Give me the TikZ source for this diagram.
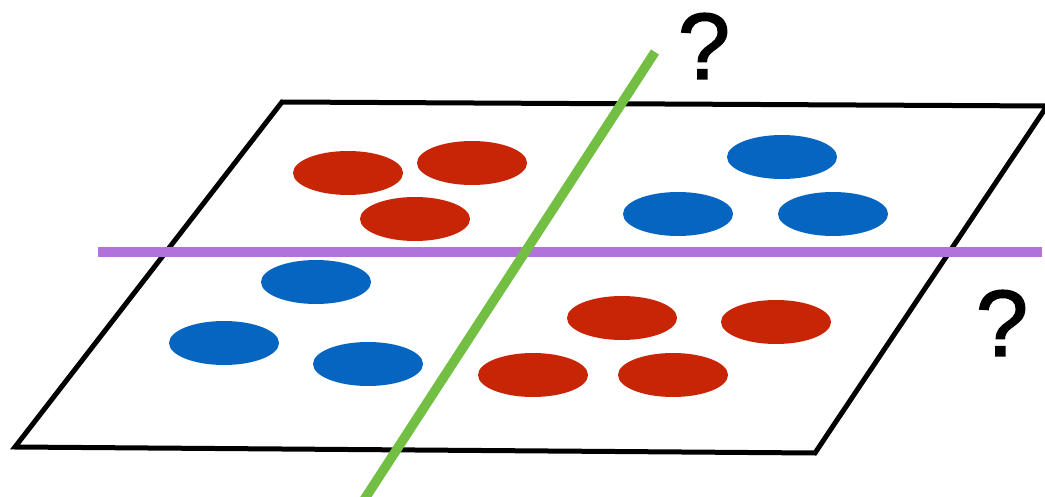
\documentclass[tikz,border=0pt]{standalone}
\usepackage{fontspec}
\setmainfont{Liberation Sans}
\newfontfamily\qfont[FakeBold=1.6]{Liberation Sans}
\definecolor{dotred}{HTML}{C82506}
\definecolor{dotblue}{HTML}{0565C0}
\definecolor{lgreen}{HTML}{72BF44}
\definecolor{lpurple}{HTML}{B272DC}
\begin{document}
\begin{tikzpicture}[x=1pt,y=-1pt,
  plane/.style={draw=black,line width=5pt,line join=miter},
  qmark/.style={font=\qfont\fontsize{94}{94}\selectfont,inner sep=0pt}]
\useasboundingbox (0,0) rectangle (1045,497);
% plane
\coordinate (tl) at (282,102);
\coordinate (tr) at (1047,106);
\coordinate (br) at (815,453);
\coordinate (bl) at (15,447);
\draw[plane] (tl) -- (tr) -- (br) -- (bl) -- cycle;
% ellipses
\foreach \x/\y in {348/173,472/163,415/219,622/318,776/322,533/375,673/375}
  \fill[dotred] (\x,\y) ellipse [x radius=55, y radius=22];
\foreach \x/\y in {782/157,678/214,833/214,316/282,224/343,368/364}
  \fill[dotblue] (\x,\y) ellipse [x radius=55, y radius=22];
% separating lines
\coordinate (pa) at (98,252);
\coordinate (pb) at (1042,252);
\draw[lpurple,line width=10pt] (pa) -- (pb);
\coordinate (ga) at (655,52);
\coordinate (gb) at (362,503);
\draw[lgreen,line width=9.5pt] (ga) -- (gb);
% question marks
\node[qmark] (q1) at (704,46) {?};
\node[qmark] (q2) at (1002,323) {?};
\end{tikzpicture}
\end{document}
